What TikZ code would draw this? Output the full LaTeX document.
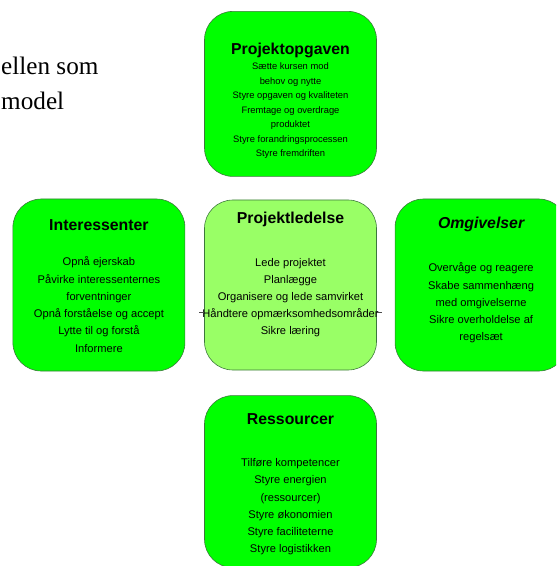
\documentclass[tikz,border=0pt]{standalone}
\usepackage{fontspec}
\setmainfont{Liberation Serif}
\setsansfont{Liberation Sans}
\usetikzlibrary{positioning}

\definecolor{lime}{RGB}{0,255,0}
\definecolor{palelime}{RGB}{153,255,102}
\definecolor{edge}{RGB}{60,120,60}

\begin{document}
\begin{tikzpicture}[x=0.03cm, y=-0.03cm,
  box/.style={rectangle, draw=edge, line width=0.5pt, rounded corners=0.85cm,
              minimum width=5.16cm, minimum height=5.16cm, fill=lime,
              inner sep=0pt},
  ttl/.style={font=\sffamily\bfseries\fontsize{13.5}{15}\selectfont,
              inner sep=0pt},
  txt/.style={font=\sffamily\fontsize{9.5}{14.7}\selectfont, align=center,
              inner sep=0pt},
  small/.style={font=\sffamily\fontsize{8}{12.4}\selectfont, align=center,
                inner sep=0pt},
  serif/.style={font=\fontsize{21.5}{26}\selectfont, anchor=base west,
                inner sep=0pt},
  stub/.style={line width=0.6pt, draw=black!70}
]
\useasboundingbox (0,0) rectangle (556,566);
\clip (0,0) rectangle (556,566);

\node[serif] (head1) at (1,75)  {ellen som};
\node[serif] (head2) at (1,110) {model};

% the five boxes
\node[box, fill=palelime, minimum height=5.1cm] (ctr) at (290.5,285) {};
\node[box, minimum height=4.95cm, above=0.69cm of ctr] (opg) {};
\node[box, left=0.57cm of ctr]  (ints) {};
\node[box, right=0.54cm of ctr] (omg)  {};
\node[box, below=0.75cm of ctr] (res)  {};

% titles
\node[ttl, below=0.94cm of opg.north]  (opgT)  {Projektopgaven};
\node[ttl, below=0.61cm of ints.north] (intsT) {Interessenter};
\node[ttl, below=0.37cm of ctr.north]  (ctrT)  {Projektledelse};
\node[ttl, font=\sffamily\bfseries\itshape\fontsize{13.5}{15}\selectfont,
      below=0.55cm of omg.north]       (omgT)  {Omgivelser};
\node[ttl, below=0.55cm of res.north]  (resT)  {Ressourcer};

% texts
\node[small, below=1.55cm of opg.north] (opgB)
  {Sætte kursen mod\\behov og nytte\\Styre opgaven og kvaliteten\\
   Fremtage og overdrage\\produktet\\Styre forandringsprocessen\\
   Styre fremdriften};
\node[txt, below=1.74cm of ints.north] (intsB)
  {Opnå ejerskab\\Påvirke interessenternes\\forventninger\\
   Opnå forståelse og accept\\Lytte til og forstå\\Informere};
\node[txt, below=1.74cm of ctr.north] (ctrB)
  {Lede projektet\\Planlægge\\Organisere og lede samvirket\\
   Håndtere opmærksomhedsområder\\Sikre læring};
\node[txt, below=1.92cm of omg.north] (omgB)
  {Overvåge og reagere\\Skabe sammenhæng\\med omgivelserne\\
   Sikre overholdelse af\\regelsæt};
\node[txt, below=1.89cm of res.north] (resB)
  {Tilføre kompetencer\\Styre energien\\(ressourcer)\\Styre økonomien\\
   Styre faciliteterne\\Styre logistikken};

% small stubs at the centre box
\coordinate (stubL) at ([yshift=-0.81cm] ctr.west);
\coordinate (stubR) at ([yshift=-0.81cm] ctr.east);
\draw[stub] (stubL) -- ++(-0.17cm,0);
\draw[stub] (stubR) -- ++(0.17cm,0);

\end{tikzpicture}
\end{document}
